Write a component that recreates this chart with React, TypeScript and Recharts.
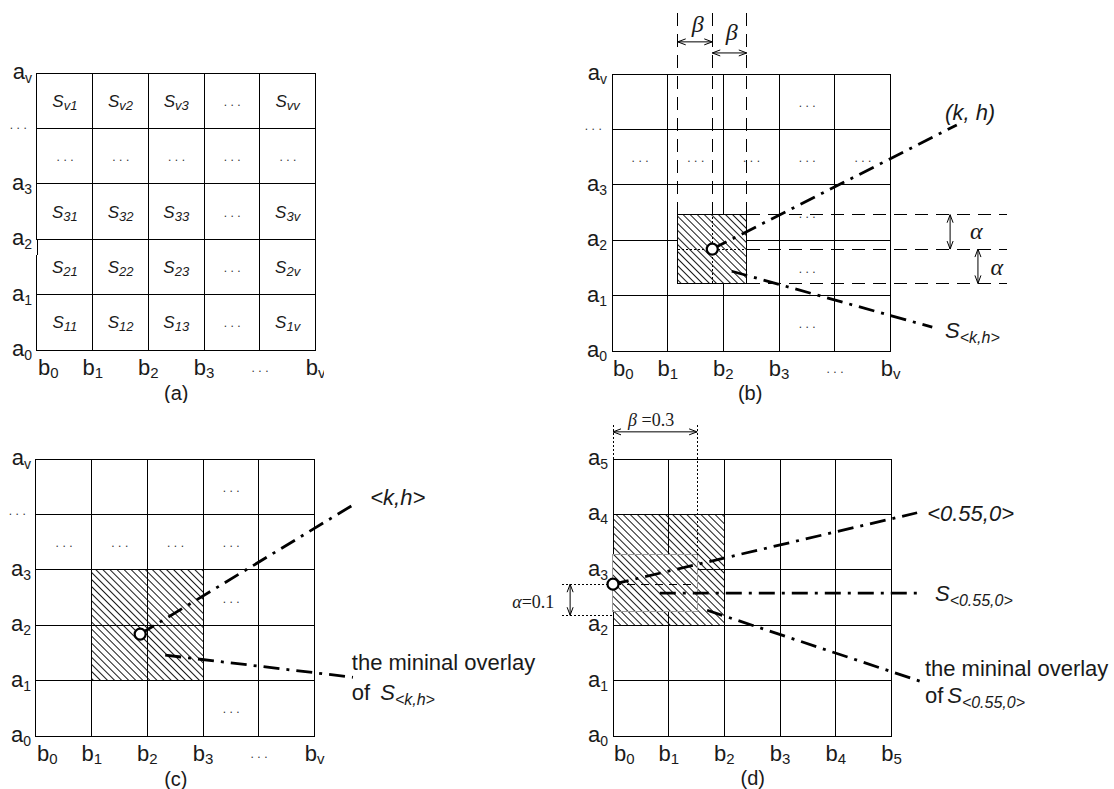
import React from 'react';
import {
  ComposedChart,
  XAxis,
  YAxis,
  Line,
  Scatter,
  ReferenceArea,
  ReferenceLine,
  ReferenceDot,
} from 'recharts';

// one grid cell in pixels
const CW = 55.7;
const CH = 55.4;
const SANS = '"Liberation Sans", Arial, sans-serif';
const SERIF = '"Liberation Serif", "Times New Roman", serif';
const INK = '#1a1a1a';

type Pt = { x: number; y: number };
type Kind = 'ytick' | 'xtick' | 'xtick0' | 'cell' | 'math' | 'text' | 'greek' | 'note' | 'caption';
interface Mark { x: number; y: number; text: string; kind: Kind }

// axis tick labels
const aTicks = ['a_0', 'a_1', 'a_2', 'a_3', '…', 'a_v'];
const bTicks = ['b_0', 'b_1', 'b_2', 'b_3', '…', 'b_v'];
const aTicksD = ['a_0', 'a_1', 'a_2', 'a_3', 'a_4', 'a_5'];
const bTicksD = ['b_0', 'b_1', 'b_2', 'b_3', 'b_4', 'b_5'];

// (a) cell names, bottom row first
const cellRowsA = [
  ['S_{11}', 'S_{12}', 'S_{13}', '…', 'S_{1v}'],
  ['S_{21}', 'S_{22}', 'S_{23}', '…', 'S_{2v}'],
  ['S_{31}', 'S_{32}', 'S_{33}', '…', 'S_{3v}'],
  ['…', '…', '…', '…', '…'],
  ['S_{v1}', 'S_{v2}', 'S_{v3}', '…', 'S_{vv}'],
];

// cells holding "..." as [col, row]
const dotCellsB = [[3, 4], [0, 3], [1, 3], [2, 3], [3, 3], [4, 3], [3, 2], [3, 1], [3, 0]];
const dotCellsC = [[3, 4], [0, 3], [1, 3], [2, 3], [3, 3], [3, 2], [3, 0]];

// (b)
const circleB: Pt = { x: 1.8, y: 1.84 };
const boxB = { x1: 1.18, x2: 2.42, y1: 1.22, y2: 2.46 };
const lineKhB: Pt[] = [{ x: 1.8, y: 1.84 }, { x: 6.19, y: 4.08 }];
const lineSB: Pt[] = [{ x: 2.15, y: 1.44 }, { x: 5.75, y: 0.43 }];
const dashedB: Pt[][] = [
  [{ x: 1.18, y: 2.46 }, { x: 1.18, y: 6.1 }],
  [{ x: 1.8, y: 2.46 }, { x: 1.8, y: 6.1 }],
  [{ x: 2.42, y: 2.46 }, { x: 2.42, y: 6.21 }],
  [{ x: 2.42, y: 2.46 }, { x: 7.09, y: 2.46 }],
  [{ x: 2.42, y: 1.84 }, { x: 7.09, y: 1.84 }],
  [{ x: 2.42, y: 1.22 }, { x: 7.09, y: 1.22 }],
];
const dottedB: Pt[][] = [
  [{ x: 1.8, y: 1.22 }, { x: 1.8, y: 2.46 }],
  [{ x: 1.18, y: 1.84 }, { x: 2.42, y: 1.84 }],
];
const arrowsB: Pt[][] = [
  [{ x: 1.18, y: 5.58 }, { x: 1.8, y: 5.58 }],
  [{ x: 1.8, y: 5.38 }, { x: 2.42, y: 5.38 }],
  [{ x: 6.07, y: 2.46 }, { x: 6.07, y: 1.84 }],
  [{ x: 6.57, y: 1.84 }, { x: 6.57, y: 1.22 }],
];
const notesB: Mark[] = [
  { x: 1.54, y: 5.88, text: 'β', kind: 'greek' },
  { x: 2.15, y: 5.74, text: 'β', kind: 'greek' },
  { x: 6.54, y: 2.15, text: 'α', kind: 'greek' },
  { x: 6.91, y: 1.5, text: 'α', kind: 'greek' },
  { x: 5.98, y: 4.31, text: '(k, h)', kind: 'math' },
  { x: 5.98, y: 0.38, text: 'S_{<k,h>}', kind: 'math' },
  { x: 2.48, y: -0.75, text: '(b)', kind: 'caption' },
];

// (c)
const circleC: Pt = { x: 1.87, y: 1.84 };
const boxC = { x1: 1, x2: 3, y1: 1, y2: 3 };
const lineKhC: Pt[] = [{ x: 1.87, y: 1.84 }, { x: 5.69, y: 4.17 }];
const lineSC: Pt[] = [{ x: 2.32, y: 1.46 }, { x: 5.69, y: 1.06 }];
const notesC: Mark[] = [
  { x: 6.0, y: 4.31, text: '<k,h>', kind: 'math' },
  { x: 5.67, y: 1.34, text: 'the mininal overlay', kind: 'text' },
  { x: 5.67, y: 0.79, text: 'of', kind: 'text' },
  { x: 6.18, y: 0.79, text: 'S_{<k,h>}', kind: 'math' },
  { x: 2.51, y: -0.78, text: '(c)', kind: 'caption' },
];

// (d)
const circleD: Pt = { x: 0, y: 2.74 };
const boxD = { x1: 0, x2: 2, y1: 2, y2: 4 };
const rangeD = { x1: 0, x2: 1.51, y1: 2.24, y2: 3.27 };
const lineKhD: Pt[] = [{ x: 0, y: 2.74 }, { x: 5.46, y: 4.03 }];
const lineSD: Pt[] = [{ x: 0.84, y: 2.58 }, { x: 5.57, y: 2.58 }];
const lineOvD: Pt[] = [{ x: 1.69, y: 2.27 }, { x: 5.57, y: 0.97 }];
const dashedD: Pt[][] = [[{ x: 0, y: 2.74 }, { x: 1.51, y: 2.74 }]];
const dottedD: Pt[][] = [
  [{ x: 0, y: 5 }, { x: 0, y: 5.61 }],
  [{ x: 1.51, y: 3.27 }, { x: 1.51, y: 5.61 }],
  [{ x: -0.92, y: 2.74 }, { x: 0, y: 2.74 }],
  [{ x: -0.92, y: 2.18 }, { x: 0, y: 2.18 }],
];
const arrowsD: Pt[][] = [
  [{ x: 0, y: 5.49 }, { x: 1.51, y: 5.49 }],
  [{ x: -0.77, y: 2.74 }, { x: -0.77, y: 2.18 }],
];
const notesD: Mark[] = [
  { x: 5.64, y: 4.03, text: '<0.55,0>', kind: 'math' },
  { x: 5.78, y: 2.58, text: 'S_{<0.55,0>}', kind: 'math' },
  { x: 5.6, y: 1.23, text: 'the mininal overlay', kind: 'text' },
  { x: 5.6, y: 0.74, text: 'of', kind: 'text' },
  { x: 6.0, y: 0.74, text: 'S_{<0.55,0>}', kind: 'math' },
  { x: 0.27, y: 5.7, text: 'β =0.3', kind: 'note' },
  { x: -1.81, y: 2.42, text: 'α=0.1', kind: 'note' },
  { x: 2.51, y: -0.76, text: '(d)', kind: 'caption' },
];

const STYLE: Record<Kind, { size: number; sub: number; subDy: number; anchor: string; dx: number; dy: number; italic: boolean; family: string }> = {
  ytick: { size: 22, sub: 14, subDy: 4, anchor: 'end', dx: -5, dy: 6, italic: false, family: SANS },
  xtick: { size: 22, sub: 15, subDy: 3, anchor: 'middle', dx: 0, dy: 25, italic: false, family: SANS },
  xtick0: { size: 22, sub: 15, subDy: 3, anchor: 'start', dx: 1, dy: 25, italic: false, family: SANS },
  cell: { size: 17, sub: 13, subDy: 3, anchor: 'middle', dx: 0, dy: 6, italic: true, family: SANS },
  math: { size: 22, sub: 16, subDy: 5, anchor: 'start', dx: 0, dy: 8, italic: true, family: SANS },
  text: { size: 22, sub: 16, subDy: 5, anchor: 'start', dx: 0, dy: 8, italic: false, family: SANS },
  greek: { size: 24, sub: 16, subDy: 5, anchor: 'middle', dx: 0, dy: 7, italic: true, family: SERIF },
  note: { size: 18, sub: 13, subDy: 4, anchor: 'start', dx: 0, dy: 6, italic: false, family: SERIF },
  caption: { size: 20, sub: 13, subDy: 4, anchor: 'middle', dx: 0, dy: 7, italic: false, family: SANS },
};

function parse(text: string) {
  const out: { t: string; sub: boolean; greek: boolean }[] = [];
  const re = /_\{([^}]*)\}|_(\S)|([αβ])|([^_αβ]+)/g;
  let m: RegExpExecArray | null;
  while ((m = re.exec(text))) {
    if (m[1] !== undefined) out.push({ t: m[1], sub: true, greek: false });
    else if (m[2] !== undefined) out.push({ t: m[2], sub: true, greek: false });
    else if (m[3] !== undefined) out.push({ t: m[3], sub: false, greek: true });
    else out.push({ t: m[4], sub: false, greek: false });
  }
  return out;
}

function MarkShape(props: any) {
  const { cx, cy, payload } = props;
  if (cx == null || cy == null || !payload) return null;
  const m = payload as Mark;
  if (m.text === '…') {
    const dx = m.kind === 'ytick' ? -17 : 2;
    const dy = m.kind === 'ytick' ? 1 : m.kind === 'cell' ? 5 : 22;
    return (
      <text x={cx + dx} y={cy + dy} textAnchor="middle" fontFamily={SANS} fontSize={12} letterSpacing={3.5} fill="#333">
        ...
      </text>
    );
  }
  const st = STYLE[m.kind];
  let shift = 0;
  return (
    <text
      x={cx + st.dx}
      y={cy + st.dy}
      textAnchor={st.anchor as any}
      fontFamily={st.family}
      fontSize={st.size}
      fontStyle={st.italic ? 'italic' : 'normal'}
      fill={INK}
    >
      {parse(m.text).map((p, i) => {
        const target = p.sub ? st.subDy : 0;
        const dy = target - shift;
        shift = target;
        return (
          <tspan
            key={i}
            dy={dy}
            fontSize={p.sub ? st.sub : st.size}
            fontStyle={p.greek ? 'italic' : undefined}
            fontFamily={p.greek ? SERIF : undefined}
          >
            {p.t}
          </tspan>
        );
      })}
    </text>
  );
}

function ArrowLine(props: any) {
  const { x1, y1, x2, y2 } = props;
  const len = Math.hypot(x2 - x1, y2 - y1) || 1;
  const ux = (x2 - x1) / len;
  const uy = (y2 - y1) / len;
  const head = (x: number, y: number, dx: number, dy: number) => {
    const L = 8;
    const W = 3;
    return `${x - dx * L - dy * W},${y - dy * L + dx * W} ${x},${y} ${x - dx * L + dy * W},${y - dy * L - dx * W}`;
  };
  return (
    <g>
      <line x1={x1} y1={y1} x2={x2} y2={y2} stroke="#000" strokeWidth={1} />
      <polyline points={head(x2, y2, ux, uy)} fill="none" stroke="#000" strokeWidth={1} />
      <polyline points={head(x1, y1, -ux, -uy)} fill="none" stroke="#000" strokeWidth={1} />
    </g>
  );
}

const tickMarks = (ys: string[], xs: string[]): Mark[] => [
  ...ys.map((text, i) => ({ x: 0, y: i, text, kind: 'ytick' as Kind })),
  ...xs.map((text, i) => ({ x: i, y: 0, text, kind: (i === 0 ? 'xtick0' : 'xtick') as Kind })),
];

const dotMarks = (cells: number[][]): Mark[] =>
  cells.map(([c, r]) => ({ x: c + 0.5, y: r + 0.5, text: '…', kind: 'cell' as Kind }));

const marksA: Mark[] = [
  ...tickMarks(aTicks, bTicks),
  ...cellRowsA.flatMap((row, r) => row.map((text, c) => ({ x: c + 0.5, y: r + 0.5, text, kind: 'cell' as Kind }))),
  { x: 2.5, y: -0.78, text: '(a)', kind: 'caption' },
];
const marksB: Mark[] = [...tickMarks(aTicks, bTicks), ...dotMarks(dotCellsB), ...notesB];
const marksC: Mark[] = [...tickMarks(aTicks, bTicks), ...dotMarks(dotCellsC), ...notesC];
const marksD: Mark[] = [...tickMarks(aTicksD, bTicksD), ...notesD];

const dashDot = (key: string, data: Pt[]) => (
  <Line
    key={key}
    data={data}
    dataKey="y"
    type="linear"
    stroke="#000"
    strokeWidth={2.8}
    strokeDasharray="16 7 3 7"
    dot={false}
    activeDot={false}
    legendType="none"
    isAnimationActive={false}
  />
);

const guides = (key: string, segs: Pt[][], dash: string) =>
  segs.map((s, i) => (
    <ReferenceLine
      key={`${key}${i}`}
      segment={s}
      stroke="#000"
      strokeWidth={1}
      strokeDasharray={dash}
      ifOverflow="visible"
      className="crisp"
    />
  ));

const arrows = (key: string, segs: Pt[][]) =>
  segs.map((s, i) => <ReferenceLine key={`${key}${i}`} segment={s} ifOverflow="visible" shape={ArrowLine} />);

const circle = (p: Pt) => (
  <ReferenceDot key="circle" x={p.x} y={p.y} r={5.5} fill="#fff" stroke="#000" strokeWidth={2.2} ifOverflow="visible" />
);

interface PanelProps {
  id: string;
  ox: number;
  oy: number;
  xd: [number, number];
  yd: [number, number];
  marks: Mark[];
  children?: React.ReactNode;
}

function Panel({ id, ox, oy, xd, yd, marks, children }: PanelProps) {
  const left = Math.round(ox + xd[0] * CW);
  const right = Math.round(ox + xd[1] * CW);
  const top = Math.round(oy - yd[1] * CH);
  const bottom = Math.round(oy - yd[0] * CH);
  const xDom: [number, number] = [(left - ox) / CW, (right - ox) / CW];
  const yDom: [number, number] = [(oy - bottom) / CH, (oy - top) / CH];
  const cells = [];
  for (let i = 0; i < 5; i++) {
    for (let j = 0; j < 5; j++) {
      cells.push(
        <ReferenceArea
          key={`g${i}-${j}`}
          x1={i}
          x2={i + 1}
          y1={j}
          y2={j + 1}
          fill="none"
          stroke="#000"
          strokeWidth={1}
          className="crisp"
          ifOverflow="visible"
        />
      );
    }
  }
  return (
    <div style={{ position: 'absolute', left, top }}>
      <ComposedChart width={right - left} height={bottom - top} margin={{ top: 0, right: 0, bottom: 0, left: 0 }}>
        <defs>
          <pattern id={`hatch-${id}`} patternUnits="userSpaceOnUse" width={5} height={5} patternTransform="rotate(-45)">
            <line x1={2.5} y1={0} x2={2.5} y2={5} stroke="#000" strokeWidth={0.9} />
          </pattern>
        </defs>
        <XAxis type="number" dataKey="x" domain={xDom} allowDataOverflow hide />
        <YAxis type="number" dataKey="y" domain={yDom} allowDataOverflow hide />
        {cells}
        {children}
        <Scatter data={marks} dataKey="y" shape={MarkShape} legendType="none" isAnimationActive={false} />
      </ComposedChart>
    </div>
  );
}

export default function App() {
  return (
    <div style={{ position: 'absolute', left: 0, top: 0, width: 1114, height: 789, background: '#fff', overflow: 'hidden' }}>
      <style>{'.crisp{shape-rendering:crispEdges}'}</style>

      <Panel id="a" ox={37} oy={350} xd={[-0.66, 5.15]} yd={[-0.95, 5.3]} marks={marksA} />

      <Panel id="b" ox={612} oy={351} xd={[-0.7, 7.3]} yd={[-0.95, 6.3]} marks={marksB}>
        <ReferenceArea key="bw" {...boxB} fill="#fff" fillOpacity={1} />
        <ReferenceArea key="bh" {...boxB} fill="url(#hatch-b)" fillOpacity={1} stroke="#000" strokeWidth={1} className="crisp" />
        {guides('bd', dashedB, '13 8')}
        {guides('bt', dottedB, '2 2')}
        {arrows('ba', arrowsB)}
        {dashDot('bkh', lineKhB)}
        {dashDot('bs', lineSB)}
        {circle(circleB)}
      </Panel>

      <Panel id="c" ox={36} oy={736} xd={[-0.64, 9.1]} yd={[-0.95, 5.3]} marks={marksC}>
        <ReferenceArea key="ch" {...boxC} fill="url(#hatch-c)" fillOpacity={1} />
        {dashDot('ckh', lineKhC)}
        {dashDot('cs', lineSC)}
        {circle(circleC)}
      </Panel>

      <Panel id="d" ox={613} oy={736} xd={[-1.95, 8.98]} yd={[-0.95, 5.95]} marks={marksD}>
        <ReferenceArea key="dh" {...boxD} fill="url(#hatch-d)" fillOpacity={1} />
        <ReferenceArea key="dw" {...rangeD} fill="#fff" fillOpacity={1} />
        <ReferenceArea key="dr" {...rangeD} fill="url(#hatch-d)" fillOpacity={1} stroke="#999" strokeWidth={1} className="crisp" />
        {guides('dd', dashedD, '8 6')}
        {guides('dt', dottedD, '2 2')}
        {arrows('da', arrowsD)}
        {dashDot('dkh', lineKhD)}
        {dashDot('ds', lineSD)}
        {dashDot('do', lineOvD)}
        {circle(circleD)}
      </Panel>
    </div>
  );
}
